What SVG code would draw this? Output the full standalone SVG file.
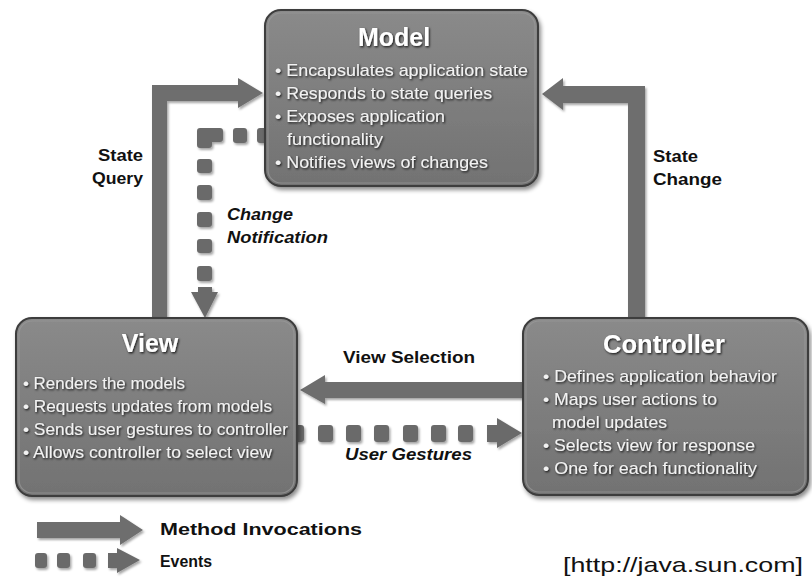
<svg xmlns="http://www.w3.org/2000/svg" width="812" height="577" viewBox="0 0 812 577">
<defs>
<linearGradient id="boxg" x1="0" y1="0" x2="0" y2="1">
<stop offset="0" stop-color="#8a8a8a"/>
<stop offset="1" stop-color="#727272"/>
</linearGradient>
<filter id="shadow" x="-10%" y="-10%" width="120%" height="125%">
<feDropShadow dx="2" dy="3" stdDeviation="2" flood-color="#000" flood-opacity="0.45"/>
</filter>
<filter id="ashadow" x="-10%" y="-10%" width="120%" height="130%">
<feDropShadow dx="1.5" dy="2" stdDeviation="1.2" flood-color="#000" flood-opacity="0.35"/>
</filter>
<filter id="tshadow" x="-5%" y="-20%" width="110%" height="150%">
<feDropShadow dx="1" dy="1.2" stdDeviation="0.8" flood-color="#000" flood-opacity="0.85"/>
</filter>
</defs>
<style>
.box{fill:url(#boxg);stroke:#3c3c3c;stroke-width:2;filter:url(#shadow)}
.inner{fill:none;stroke:#9a9a9a;stroke-width:1.2;opacity:0.7}
.title{font-family:"Liberation Sans",Arial,sans-serif;font-weight:bold;font-size:25px;fill:#ffffff;text-anchor:middle;filter:url(#tshadow)}
.item{font-family:"Liberation Sans",Arial,sans-serif;font-size:17px;fill:#f2f2f2;filter:url(#tshadow)}
.arrow{fill:#6e6e6e;filter:url(#ashadow)}
.dot{fill:#6b6b6b;filter:url(#ashadow)}
.lbl{font-family:"Liberation Sans",Arial,sans-serif;font-weight:bold;font-size:16px;fill:#111111}
.ital{font-style:italic}
.url{font-family:"Liberation Sans",Arial,sans-serif;font-size:21px;fill:#111111}
</style>
<rect width="812" height="577" fill="#ffffff"/>

<g id="connectors">
<!-- State Query: View -> Model -->
<polygon class="arrow" points="152,320 152,85 238,85 238,78 263,93 238,108 238,101 167,101 167,320"/>
<!-- State Change: Controller -> Model -->
<polygon class="arrow" points="542,94 563,78 563,86 645,86 645,320 628,320 628,103 563,103 563,110"/>
<!-- Change Notification: Model -> View (events) -->
<g class="dot">
<rect x="257" y="128" width="14" height="15" rx="3"/>
<rect x="233" y="128" width="14" height="15" rx="3"/>
<path d="M200,128 H220 Q223,128 223,131 V139 Q223,142 220,142 H212 V145 Q212,148 209,148 H200 Q197,148 197,145 V131 Q197,128 200,128 Z"/>
<rect x="197" y="159" width="15" height="14" rx="3"/>
<rect x="197" y="185" width="15" height="15" rx="3"/>
<rect x="197" y="212" width="15" height="15" rx="3"/>
<rect x="197" y="239" width="15" height="14" rx="3"/>
<rect x="197" y="266" width="15" height="15" rx="3"/>
<polygon points="198,287 212,287 212,292 218,292 205,318 191,292 198,292"/>
</g>
<!-- View Selection: Controller -> View -->
<polygon class="arrow" points="300,390 325,375 325,382 524,382 524,398 325,398 325,404"/>
<!-- User Gestures: View -> Controller (events) -->
<g class="dot">
<rect x="290" y="425" width="14" height="17" rx="3"/>
<rect x="318" y="425" width="15" height="17" rx="3"/>
<rect x="346" y="425" width="15" height="17" rx="3"/>
<rect x="374" y="425" width="15" height="17" rx="3"/>
<rect x="403" y="425" width="15" height="17" rx="3"/>
<rect x="431" y="425" width="15" height="17" rx="3"/>
<rect x="458" y="425" width="15" height="17" rx="3"/>
<polygon points="487,425 497,425 497,418 522,433 497,448 497,442 487,442"/>
</g>
</g>

<g id="model">
<rect class="box" x="265" y="10" width="273" height="176" rx="16"/>
<rect class="inner" x="268" y="13" width="267" height="170" rx="13"/>
<text class="title" x="394" y="46">Model</text>
<text class="item" x="275" y="76" textLength="253" lengthAdjust="spacingAndGlyphs">• Encapsulates application state</text>
<text class="item" x="275" y="99" textLength="217" lengthAdjust="spacingAndGlyphs">• Responds to state queries</text>
<text class="item" x="275" y="122" textLength="170" lengthAdjust="spacingAndGlyphs">• Exposes application</text>
<text class="item" x="287" y="145" textLength="96" lengthAdjust="spacingAndGlyphs">functionality</text>
<text class="item" x="275" y="168" textLength="213" lengthAdjust="spacingAndGlyphs">• Notifies views of changes</text>
</g>

<g id="view">
<rect class="box" x="16" y="318" width="281" height="178" rx="16"/>
<rect class="inner" x="19" y="321" width="275" height="172" rx="13"/>
<text class="title" x="150" y="352">View</text>
<text class="item" x="23" y="389" textLength="162" lengthAdjust="spacingAndGlyphs">• Renders the models</text>
<text class="item" x="23" y="412" textLength="249" lengthAdjust="spacingAndGlyphs">• Requests updates from models</text>
<text class="item" x="23" y="435" textLength="265" lengthAdjust="spacingAndGlyphs">• Sends user gestures to controller</text>
<text class="item" x="23" y="458" textLength="249" lengthAdjust="spacingAndGlyphs">• Allows controller to select view</text>
</g>

<g id="controller">
<rect class="box" x="523" y="318" width="285" height="177" rx="16"/>
<rect class="inner" x="526" y="321" width="279" height="171" rx="13"/>
<text class="title" x="664" y="353" textLength="122" lengthAdjust="spacingAndGlyphs">Controller</text>
<text class="item" x="543" y="382" textLength="234" lengthAdjust="spacingAndGlyphs">• Defines application behavior</text>
<text class="item" x="543" y="405" textLength="174" lengthAdjust="spacingAndGlyphs">• Maps user actions to</text>
<text class="item" x="552" y="428" textLength="115" lengthAdjust="spacingAndGlyphs">model updates</text>
<text class="item" x="543" y="451" textLength="212" lengthAdjust="spacingAndGlyphs">• Selects view for response</text>
<text class="item" x="543" y="474" textLength="214" lengthAdjust="spacingAndGlyphs">• One for each functionality</text>
</g>

<g id="labels">
<text class="lbl" x="98" y="161" textLength="45" lengthAdjust="spacingAndGlyphs">State</text>
<text class="lbl" x="92" y="184" textLength="51" lengthAdjust="spacingAndGlyphs">Query</text>
<text class="lbl ital" x="227" y="220" textLength="66" lengthAdjust="spacingAndGlyphs">Change</text>
<text class="lbl ital" x="227" y="243" textLength="101" lengthAdjust="spacingAndGlyphs">Notification</text>
<text class="lbl" x="653" y="162" textLength="45" lengthAdjust="spacingAndGlyphs">State</text>
<text class="lbl" x="653" y="185" textLength="69" lengthAdjust="spacingAndGlyphs">Change</text>
<text class="lbl" x="343" y="363" textLength="132" lengthAdjust="spacingAndGlyphs">View Selection</text>
<text class="lbl ital" x="345" y="460" textLength="127" lengthAdjust="spacingAndGlyphs">User Gestures</text>
</g>

<g id="legend">
<polygon class="arrow" points="37,522 120,522 120,515 143,530 120,545 120,538 37,538"/>
<g class="dot">
<rect x="35" y="553" width="12" height="15" rx="3"/>
<rect x="57" y="553" width="13" height="15" rx="3"/>
<rect x="83" y="553" width="13" height="15" rx="3"/>
<polygon points="108,553 117,553 117,548 140,560 117,573 117,568 108,568"/>
</g>
<text class="lbl" x="160" y="535" textLength="202" lengthAdjust="spacingAndGlyphs">Method Invocations</text>
<text class="lbl" x="160" y="567" textLength="52" lengthAdjust="spacingAndGlyphs">Events</text>
<text class="url" x="563" y="572" textLength="240" lengthAdjust="spacingAndGlyphs">[http://java.sun.com]</text>
</g>
</svg>
